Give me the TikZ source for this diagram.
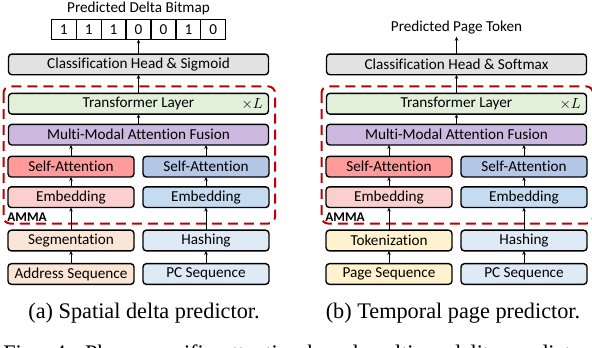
\documentclass[tikz,border=0pt]{standalone}
\usepackage{fontspec}
\setmainfont{Carlito}[Ligatures=NoCommon]
\newfontfamily\capfont{Liberation Serif}
\usetikzlibrary{arrows.meta, positioning, calc}
\definecolor{ammared}{HTML}{C00000}
\definecolor{headgray}{HTML}{E2E2E2}
\definecolor{trgreen}{HTML}{E2EFDA}
\definecolor{fusepurple}{HTML}{CDB9E0}
\definecolor{attred}{HTML}{FF9B9B}
\definecolor{attblue}{HTML}{B4C7E7}
\definecolor{embred}{HTML}{FCCFCF}
\definecolor{embblue}{HTML}{C5DBF0}
\definecolor{addrpeach}{HTML}{FBE5D6}
\definecolor{pcblue}{HTML}{DEEBF7}
\definecolor{pageyellow}{HTML}{FFF2CC}

\begin{document}
\begin{tikzpicture}[x=0.75pt, y=-0.75pt,
    font=\fontsize{11.4}{13}\selectfont,
    blk/.style={draw, rounded corners=2.5pt, line width=1.05pt,
                minimum height=15.5pt, inner sep=0pt, outer sep=0pt},
    half/.style={blk, minimum width=94.5pt},
    full/.style={blk, minimum width=195pt},
    bit/.style={draw, line width=0.9pt, minimum width=18.7pt,
                minimum height=15pt, inner sep=0pt, outer sep=0pt},
    arr/.style={-{Stealth[length=3pt, width=2.6pt]}, line width=0.7pt},
    amma/.style={draw=ammared, dash pattern=on 7.5pt off 4.5pt,
                 line width=1.5pt, rounded corners=5pt},
    captext/.style={font=\capfont\fontsize{16.7}{19}\selectfont}
  ]
  \useasboundingbox (0,0) rectangle (592,348);

  % (a) spatial delta predictor
  \node[half, fill=addrpeach] (spAddr) at (71,274) {Address Sequence};
  \node[half, fill=pcblue, right=6.75pt of spAddr] (spPC) {PC Sequence};
  \node[half, fill=addrpeach, above=9.6pt of spAddr] (spSeg) {Segmentation};
  \node[half, fill=pcblue, above=9.6pt of spPC] (spHash) {Hashing};
  \node[half, fill=embred, above=17pt of spSeg] (spEmb1) {Embedding};
  \node[half, fill=embblue, above=17pt of spHash] (spEmb2) {Embedding};
  \node[half, fill=attred, above=7.4pt of spEmb1] (spAtt1) {Self-Attention};
  \node[half, fill=attblue, above=7.4pt of spEmb2] (spAtt2) {Self-Attention};
  \coordinate (spMid) at ($(spAtt1.north)!0.5!(spAtt2.north)$);
  \node[full, fill=fusepurple, above=8.5pt of spMid] (spFuse) {Multi-Modal Attention Fusion};
  \node[full, fill=trgreen, above=7.7pt of spFuse] (spTrans) {Transformer Layer};
  \node[anchor=east, inner sep=0pt] (spTimes) at ($(spTrans.east)+(-4pt,0pt)$) {$\times L$};
  \node[full, fill=headgray, above=14pt of spTrans] (spHead) {Classification Head \& Sigmoid};
  \coordinate[above=11pt of spHead] (spBm);
  \foreach \v [count=\i] in {1,1,1,0,0,1,0}
    \node[bit, anchor=south] (spBit\i) at ($(spBm)+({(\i-4)*18.7pt},0pt)$) {\v};
  \node[above=3pt of spBit4, inner sep=0pt] (spOut) {Predicted Delta Bitmap};

  \draw[amma] ($(spTrans.north west)+(-3.75pt,5.25pt)$) rectangle ($(spEmb2.south east)+(4.5pt,-12pt)$);
  \node[anchor=south west, inner sep=0pt, font=\bfseries] (spAmma)
    at ($(spEmb1.south west)+(-0.75pt,-10.5pt)$) {AMMA};

  \draw[arr] (spAddr) -- (spSeg);
  \draw[arr] (spPC) -- (spHash);
  \draw[arr] (spSeg) -- (spEmb1);
  \draw[arr] (spHash) -- (spEmb2);
  \draw[arr] (spEmb1) -- (spAtt1);
  \draw[arr] (spEmb2) -- (spAtt2);
  \draw[arr] (spAtt1.north) -- (spAtt1.north |- spFuse.south);
  \draw[arr] (spAtt2.north) -- (spAtt2.north |- spFuse.south);
  \draw[arr] (spFuse) -- (spTrans);
  \draw[arr] (spTrans) -- (spHead);
  \draw[arr] (spHead) -- (spBit4);

  \node[captext] (spCap) at (144,313) {(a) Spatial delta predictor.};

  % (b) temporal page predictor
  \node[half, fill=pageyellow] (tpPage) at (389,274) {Page Sequence};
  \node[half, fill=pcblue, right=6.75pt of tpPage] (tpPC) {PC Sequence};
  \node[half, fill=pageyellow, above=9.6pt of tpPage] (tpTok) {Tokenization};
  \node[half, fill=pcblue, above=9.6pt of tpPC] (tpHash) {Hashing};
  \node[half, fill=embred, above=17pt of tpTok] (tpEmb1) {Embedding};
  \node[half, fill=embblue, above=17pt of tpHash] (tpEmb2) {Embedding};
  \node[half, fill=attred, above=7.4pt of tpEmb1] (tpAtt1) {Self-Attention};
  \node[half, fill=attblue, above=7.4pt of tpEmb2] (tpAtt2) {Self-Attention};
  \coordinate (tpMid) at ($(tpAtt1.north)!0.5!(tpAtt2.north)$);
  \node[full, fill=fusepurple, above=8.5pt of tpMid] (tpFuse) {Multi-Modal Attention Fusion};
  \node[full, fill=trgreen, above=7.7pt of tpFuse] (tpTrans) {Transformer Layer};
  \node[anchor=east, inner sep=0pt] (tpTimes) at ($(tpTrans.east)+(-4pt,0pt)$) {$\times L$};
  \node[full, fill=headgray, above=14pt of tpTrans] (tpHead) {Classification Head \& Softmax};
  \node[above=13pt of tpHead, inner sep=1.5pt] (tpOut) {Predicted Page Token};

  \draw[amma] ($(tpTrans.north west)+(-3.75pt,5.25pt)$) rectangle ($(tpEmb2.south east)+(4.5pt,-12pt)$);
  \node[anchor=south west, inner sep=0pt, font=\bfseries] (tpAmma)
    at ($(tpEmb1.south west)+(-0.75pt,-10.5pt)$) {AMMA};

  \draw[arr] (tpPage) -- (tpTok);
  \draw[arr] (tpPC) -- (tpHash);
  \draw[arr] (tpTok) -- (tpEmb1);
  \draw[arr] (tpHash) -- (tpEmb2);
  \draw[arr] (tpEmb1) -- (tpAtt1);
  \draw[arr] (tpEmb2) -- (tpAtt2);
  \draw[arr] (tpAtt1.north) -- (tpAtt1.north |- tpFuse.south);
  \draw[arr] (tpAtt2.north) -- (tpAtt2.north |- tpFuse.south);
  \draw[arr] (tpFuse) -- (tpTrans);
  \draw[arr] (tpTrans) -- (tpHead);
  \draw[arr] (tpHead) -- (tpOut);

  \node[captext] (tpCap) at (453,313) {(b) Temporal page predictor.};

  % figure caption, cut off by the page edge
  \node[captext, anchor=base west, inner sep=0pt] (figCap) at (3,361)
    {\makebox[450pt][s]{Fig. 4: Phase-specific attention-based multi-modality predictors.}};
\end{tikzpicture}
\end{document}
